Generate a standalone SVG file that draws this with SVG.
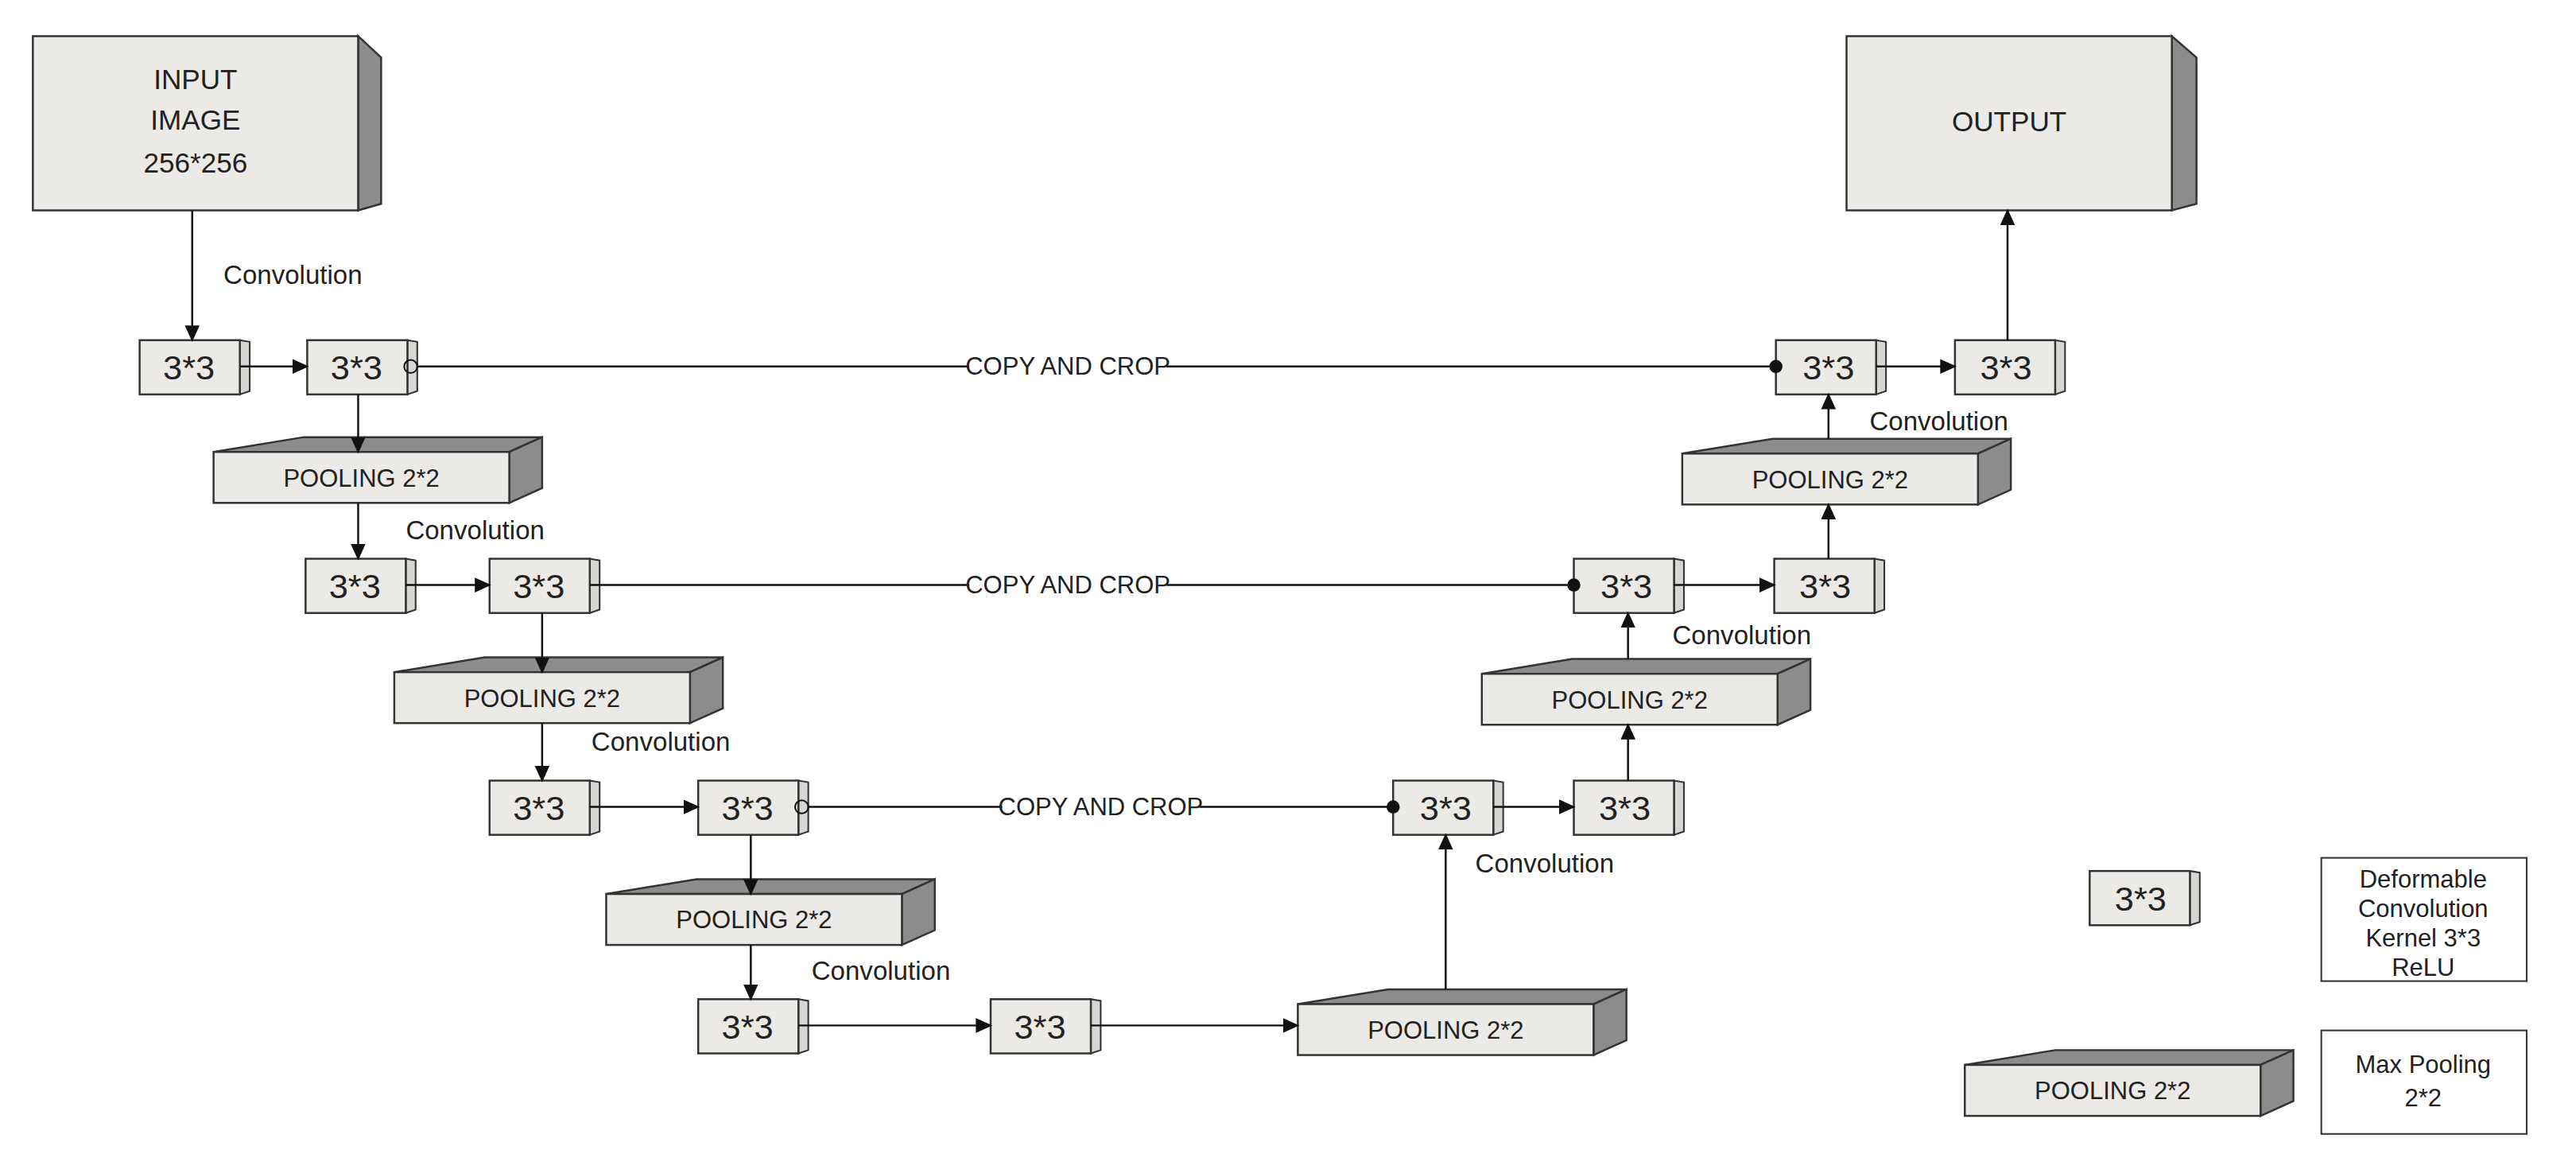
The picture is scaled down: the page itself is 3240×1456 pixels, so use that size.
<svg xmlns="http://www.w3.org/2000/svg" width="3240" height="1456" viewBox="0 0 3240 1456">
<style>
.f{fill:#ECEAE6;stroke:#333;stroke-width:1.2}
.s{fill:#8C8C8C;stroke:#333;stroke-width:1.2}
.sl{fill:#D8D6D2;stroke:#333;stroke-width:1}
text{font-family:"Liberation Sans",Arial,sans-serif;fill:#222}
.n{font-size:21px;text-anchor:middle}
.p{font-size:15px;text-anchor:middle}
.b{font-size:17px;text-anchor:middle}
.c{font-size:16px}
.l{stroke:#111;stroke-width:1.2;fill:none}
</style>
<defs>
<marker id="a" markerWidth="10" markerHeight="10" refX="9" refY="5" orient="auto" markerUnits="userSpaceOnUse"><path d="M0,0.5 L10,5 L0,9.5Z" fill="#111"/></marker>
<g id="sb"><polygon class="sl" points="61,0 67,1 67,31 61,33"/><rect class="f" x="0" y="0" width="61" height="33"/></g>
<g id="pb"><polygon class="s" points="0,0 55,-9 200,-9 180,0"/><polygon class="s" points="180,0 200,-9 200,22 180,31"/><rect class="f" x="0" y="0" width="180" height="31"/></g>
</defs>
<rect width="3240" height="1456" fill="#fff"/>
<g transform="scale(2.0663)">
<g id="input"><polygon class="s" points="218,22 232,35 232,124 218,128"/><rect class="f" x="20" y="22" width="198" height="106"/>
<text class="b" x="119" y="54">INPUT</text><text class="b" x="119" y="79">IMAGE</text><text class="b" x="119" y="105">256*256</text></g>
<g id="output"><polygon class="s" points="1322,22 1337,35 1337,124 1322,128"/><rect class="f" x="1124" y="22" width="198" height="106"/>
<text class="b" x="1223" y="80">OUTPUT</text></g>
<g id="r1a"><use href="#sb" x="85" y="207"/><text class="n" x="115" y="231">3*3</text></g>
<g id="r1b"><use href="#sb" x="187" y="207"/><text class="n" x="217" y="231">3*3</text></g>
<g id="r1c"><use href="#sb" x="1081" y="207"/><text class="n" x="1113" y="231">3*3</text></g>
<g id="r1d"><use href="#sb" x="1190" y="207"/><text class="n" x="1221" y="231">3*3</text></g>
<g id="r2a"><use href="#sb" x="186" y="340"/><text class="n" x="216" y="364">3*3</text></g>
<g id="r2b"><use href="#sb" x="298" y="340"/><text class="n" x="328" y="364">3*3</text></g>
<g id="r2c"><use href="#sb" x="958" y="340"/><text class="n" x="990" y="364">3*3</text></g>
<g id="r2d"><use href="#sb" x="1080" y="340"/><text class="n" x="1111" y="364">3*3</text></g>
<g id="r3a"><use href="#sb" x="298" y="475"/><text class="n" x="328" y="499">3*3</text></g>
<g id="r3b"><use href="#sb" x="425" y="475"/><text class="n" x="455" y="499">3*3</text></g>
<g id="r3c"><use href="#sb" x="848" y="475"/><text class="n" x="880" y="499">3*3</text></g>
<g id="r3d"><use href="#sb" x="958" y="475"/><text class="n" x="989" y="499">3*3</text></g>
<g id="r4a"><use href="#sb" x="425" y="608"/><text class="n" x="455" y="632">3*3</text></g>
<g id="r4b"><use href="#sb" x="603" y="608"/><text class="n" x="633" y="632">3*3</text></g>
<g id="p1"><use href="#pb" x="130" y="275"/><text class="p" x="220" y="296">POOLING 2*2</text></g>
<g id="p2"><use href="#pb" x="240" y="409"/><text class="p" x="330" y="430">POOLING 2*2</text></g>
<g id="p3"><use href="#pb" x="369" y="544"/><text class="p" x="459" y="565">POOLING 2*2</text></g>
<g id="p4"><use href="#pb" x="790" y="611"/><text class="p" x="880" y="632">POOLING 2*2</text></g>
<g id="p5"><use href="#pb" x="902" y="410"/><text class="p" x="992" y="431">POOLING 2*2</text></g>
<g id="p6"><use href="#pb" x="1024" y="276"/><text class="p" x="1114" y="297">POOLING 2*2</text></g>
<g id="legend1"><use href="#sb" x="1272" y="530"/><text class="n" x="1303" y="554">3*3</text>
<rect x="1413" y="522" width="125" height="75" fill="#fff" stroke="#333"/>
<text class="p" x="1475" y="540">Deformable</text><text class="p" x="1475" y="558">Convolution</text><text class="p" x="1475" y="576">Kernel 3*3</text><text class="p" x="1475" y="594">ReLU</text></g>
<g id="legend2"><use href="#pb" x="1196" y="648"/><text class="p" x="1286" y="669">POOLING 2*2</text>
<rect x="1413" y="627" width="125" height="63" fill="#fff" stroke="#333"/>
<text class="p" x="1475" y="653">Max Pooling</text><text class="p" x="1475" y="673">2*2</text></g>
<g id="connectors">
<path class="l" d="M117,128V207" marker-end="url(#a)"/>
<path class="l" d="M146,223H187" marker-end="url(#a)"/>
<circle cx="250" cy="223" r="4" fill="none" stroke="#111"/>
<path class="l" d="M254,223H1081"/><circle cx="1081" cy="223" r="4" fill="#111"/>
<path class="l" d="M1142,223H1190" marker-end="url(#a)"/>
<path class="l" d="M1222,207V128" marker-end="url(#a)"/>
<path class="l" d="M218,240V275" marker-end="url(#a)"/>
<path class="l" d="M218,306V340" marker-end="url(#a)"/>
<path class="l" d="M247,356H298" marker-end="url(#a)"/>
<path class="l" d="M359,356H958"/><circle cx="958" cy="356" r="4" fill="#111"/>
<path class="l" d="M1019,356H1080" marker-end="url(#a)"/>
<path class="l" d="M330,373V409" marker-end="url(#a)"/>
<path class="l" d="M330,440V475" marker-end="url(#a)"/>
<path class="l" d="M359,491H425" marker-end="url(#a)"/>
<circle cx="488" cy="491" r="4" fill="none" stroke="#111"/>
<path class="l" d="M492,491H848"/><circle cx="848" cy="491" r="4" fill="#111"/>
<path class="l" d="M909,491H958" marker-end="url(#a)"/>
<path class="l" d="M457,508V544" marker-end="url(#a)"/>
<path class="l" d="M457,575V608" marker-end="url(#a)"/>
<path class="l" d="M486,624H603" marker-end="url(#a)"/>
<path class="l" d="M664,624H790" marker-end="url(#a)"/>
<path class="l" d="M880,602V508" marker-end="url(#a)"/>
<path class="l" d="M991,475V441" marker-end="url(#a)"/>
<path class="l" d="M991,401V373" marker-end="url(#a)"/>
<path class="l" d="M1113,340V307" marker-end="url(#a)"/>
<path class="l" d="M1113,267V240" marker-end="url(#a)"/>
<rect x="590" y="213" width="120" height="20" fill="#fff"/><text class="p" x="650" y="228">COPY AND CROP</text>
<rect x="590" y="346" width="120" height="20" fill="#fff"/><text class="p" x="650" y="361">COPY AND CROP</text>
<rect x="610" y="481" width="120" height="20" fill="#fff"/><text class="p" x="670" y="496">COPY AND CROP</text>
<text class="c" x="136" y="173">Convolution</text>
<text class="c" x="247" y="328">Convolution</text>
<text class="c" x="360" y="457">Convolution</text>
<text class="c" x="494" y="596">Convolution</text>
<text class="c" x="898" y="531">Convolution</text>
<text class="c" x="1018" y="392">Convolution</text>
<text class="c" x="1138" y="262">Convolution</text>
</g>
</g>
</svg>
